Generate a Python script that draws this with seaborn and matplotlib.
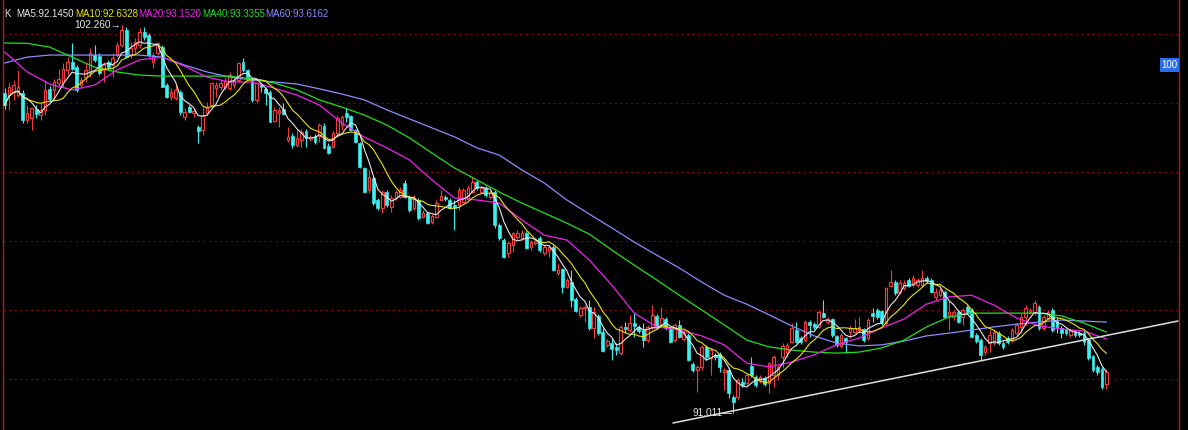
import numpy as np
import pandas as pd
import matplotlib
matplotlib.use("Agg")
import matplotlib.pyplot as plt
import seaborn as sns

# ---------------- data ----------------
opens = [100.29, 100.23, 100.32, 100.23, 100.29, 99.51, 99.57, 99.83, 99.65, 99.80,
         100.41, 100.38, 100.58, 100.61, 100.96, 101.19, 101.04, 100.52, 100.75, 100.87,
         101.39, 101.36, 100.96, 101.19, 101.10, 101.39, 101.68, 102.12, 101.39, 101.59,
         101.68, 102.06, 101.97, 101.19, 101.45, 101.62, 100.52, 100.17, 100.14, 100.32,
         99.59, 99.88, 99.71, 99.30, 99.22, 99.71, 99.94, 100.43, 100.46, 100.46,
         100.43, 100.52, 100.67, 101.19, 100.96, 100.67, 100.09, 100.52, 100.41, 100.32,
         99.48, 99.71, 99.83, 98.93, 99.04, 98.78, 98.93, 99.19, 98.96, 99.04,
         99.04, 99.33, 98.75, 98.72, 99.13, 99.36, 99.71, 99.62, 99.22, 98.84,
         98.12, 97.48, 97.83, 97.19, 96.96, 97.42, 96.99, 97.25, 97.28, 97.68,
         97.28, 96.96, 97.19, 96.70, 96.81, 96.55, 96.70, 97.19, 97.28, 97.19,
         97.04, 97.04, 97.13, 97.25, 97.42, 97.71, 97.42, 97.54, 97.28, 97.42,
         96.46, 96.03, 95.65, 95.88, 96.12, 96.09, 96.23, 95.83, 95.94, 96.09,
         95.65, 95.74, 95.83, 95.07, 95.19, 94.67, 94.81, 94.32, 93.86, 94.06,
         94.09, 93.48, 93.83, 93.36, 92.99, 93.04, 92.93, 92.75, 93.51, 93.42,
         93.62, 93.51, 93.42, 93.13, 93.51, 93.83, 93.57, 93.74, 93.48, 93.13,
         93.57, 93.16, 93.28, 92.43, 92.26, 92.35, 92.93, 92.61, 92.70, 92.73,
         92.20, 92.26, 91.48, 91.48, 91.91, 91.88, 92.38, 92.06, 91.94, 92.03,
         91.88, 92.12, 92.12, 92.64, 92.75, 93.07, 93.42, 93.19, 93.13, 93.65,
         93.59, 93.51, 93.91, 93.65, 93.74, 93.25, 92.96, 93.19, 93.36, 93.36,
         93.42, 93.45, 93.19, 93.91, 94.00, 93.97, 93.62, 94.70, 94.81, 94.52,
         94.64, 94.87, 94.72, 94.72, 94.72, 94.93, 94.87, 94.38, 94.43, 94.52,
         93.86, 93.80, 93.94, 93.80, 94.09, 94.00, 93.28, 93.13, 92.78, 93.04,
         93.04, 93.33, 93.04, 93.19, 93.13, 93.33, 93.51, 93.80, 93.94, 93.91,
         94.09, 93.48, 93.77, 94.00, 93.71, 93.48, 93.42, 93.28, 93.36, 93.33,
         93.33, 93.13, 92.67, 92.35, 92.29, 91.85]

highs = [100.43, 100.58, 100.67, 100.96, 100.38, 99.94, 99.86, 99.94, 100.00, 100.67,
         100.49, 100.70, 100.99, 101.16, 101.33, 101.74, 101.10, 100.75, 101.19, 101.59,
         101.68, 101.45, 101.19, 101.25, 101.45, 101.77, 102.26, 102.20, 101.77, 101.88,
         102.17, 102.20, 102.03, 101.48, 101.77, 101.68, 100.58, 100.43, 100.52, 100.38,
         99.86, 99.94, 99.86, 99.36, 99.88, 100.03, 100.61, 100.61, 100.67, 100.75,
         100.90, 100.75, 101.19, 101.30, 100.99, 100.72, 100.61, 100.58, 100.46, 100.38,
         99.88, 99.88, 100.00, 99.30, 99.13, 99.22, 99.25, 99.25, 99.07, 99.10,
         99.42, 99.42, 98.84, 99.19, 99.65, 99.65, 99.86, 99.65, 99.25, 98.87,
         98.14, 98.06, 97.86, 97.25, 97.48, 97.48, 97.33, 97.48, 97.57, 97.77,
         97.33, 97.33, 97.25, 96.90, 96.84, 96.78, 97.19, 97.48, 97.33, 97.25,
         97.19, 97.57, 97.54, 97.62, 97.86, 97.77, 97.59, 97.59, 97.48, 97.48,
         96.52, 96.09, 96.00, 96.26, 96.32, 96.32, 96.29, 96.03, 96.09, 96.14,
         95.88, 95.88, 95.88, 95.36, 95.22, 94.93, 95.16, 94.38, 94.12, 94.14,
         94.29, 94.09, 93.89, 93.48, 93.16, 93.19, 93.04, 93.57, 93.65, 93.86,
         93.91, 93.57, 93.62, 93.57, 94.14, 93.89, 94.09, 93.80, 93.51, 93.62,
         93.71, 93.42, 93.33, 92.49, 92.41, 92.99, 92.99, 92.90, 92.75, 92.78,
         92.32, 92.32, 91.53, 92.03, 92.03, 92.17, 92.64, 92.12, 92.12, 92.09,
         92.49, 92.70, 92.41, 93.04, 93.04, 93.62, 93.65, 93.25, 93.71, 93.71,
         93.65, 94.00, 94.29, 93.80, 93.77, 93.28, 93.33, 93.22, 93.57, 93.74,
         93.80, 93.48, 93.77, 94.06, 94.06, 94.00, 94.67, 95.16, 94.87, 94.87,
         94.87, 94.93, 95.01, 94.93, 95.16, 94.99, 94.93, 94.64, 94.64, 94.58,
         94.29, 94.00, 94.00, 94.06, 94.14, 94.06, 93.33, 93.19, 92.99, 93.42,
         93.42, 93.39, 93.10, 93.25, 93.48, 93.62, 93.91, 94.14, 94.06, 94.29,
         94.14, 93.86, 94.00, 94.06, 93.77, 93.54, 93.48, 93.48, 93.42, 93.39,
         93.39, 93.19, 92.70, 92.41, 92.35, 92.29]

lows = [99.83, 99.80, 100.09, 100.17, 99.42, 99.42, 99.22, 99.57, 99.51, 99.65,
        100.03, 100.09, 100.46, 100.46, 100.81, 100.96, 100.32, 100.43, 100.61, 100.75,
        101.19, 100.81, 100.61, 100.96, 100.75, 101.33, 101.62, 101.30, 101.30, 101.45,
        101.59, 101.83, 101.33, 101.01, 101.39, 100.46, 100.14, 100.09, 100.09, 99.65,
        99.51, 99.71, 99.59, 98.84, 99.07, 99.65, 99.88, 100.17, 100.38, 100.38,
        100.38, 100.43, 100.61, 100.90, 100.72, 100.03, 100.00, 100.32, 99.94, 99.45,
        99.45, 99.30, 99.65, 98.87, 98.70, 98.72, 98.72, 98.72, 98.90, 98.81,
        98.87, 98.70, 98.52, 98.70, 99.07, 99.22, 99.45, 99.19, 98.84, 98.12,
        97.39, 97.39, 97.04, 96.90, 96.81, 96.99, 96.84, 97.19, 97.25, 97.25,
        96.84, 96.90, 96.61, 96.67, 96.49, 96.49, 96.67, 97.19, 97.16, 96.93,
        96.32, 96.90, 97.10, 97.19, 97.39, 97.48, 97.39, 97.28, 97.22, 96.38,
        96.03, 95.51, 95.54, 95.68, 96.03, 96.03, 95.77, 95.74, 95.88, 95.68,
        95.59, 95.54, 95.13, 95.01, 94.49, 94.64, 94.09, 93.94, 93.80, 93.65,
        93.42, 93.19, 93.28, 92.78, 92.93, 92.55, 92.70, 92.70, 93.33, 93.36,
        93.22, 93.33, 92.93, 93.07, 93.42, 93.45, 93.51, 93.42, 93.04, 93.07,
        93.19, 93.10, 92.52, 92.20, 91.62, 92.26, 92.55, 92.12, 92.55, 92.20,
        91.68, 91.45, 91.011, 91.39, 91.77, 91.83, 92.06, 91.77, 91.88, 91.80,
        91.59, 91.77, 91.97, 92.32, 92.64, 93.04, 93.04, 93.01, 93.07, 93.22,
        93.45, 93.48, 93.77, 93.59, 93.22, 92.93, 92.90, 92.75, 93.19, 93.33,
        93.33, 93.07, 93.13, 93.65, 93.74, 93.57, 93.57, 94.67, 94.43, 94.46,
        94.58, 94.67, 94.67, 94.67, 94.67, 94.78, 94.49, 94.29, 94.38, 93.77,
        93.42, 93.71, 93.62, 93.57, 93.89, 93.22, 93.04, 92.55, 92.70, 92.78,
        92.99, 92.99, 92.87, 93.01, 93.07, 93.28, 93.33, 93.57, 93.89, 93.86,
        93.42, 93.42, 93.71, 93.36, 93.33, 93.19, 93.28, 93.22, 93.22, 93.22,
        92.99, 92.55, 92.20, 92.12, 91.71, 91.71]

closes = [99.94, 100.46, 100.52, 100.46, 99.51, 99.71, 99.86, 99.68, 99.80, 100.38,
          100.12, 100.61, 100.70, 100.99, 101.19, 100.99, 100.38, 100.67, 100.96, 101.45,
          101.25, 100.87, 101.10, 101.04, 101.30, 101.68, 102.12, 101.33, 101.59, 101.77,
          102.06, 101.91, 101.39, 101.39, 101.74, 100.46, 100.17, 100.32, 100.38, 99.74,
          99.74, 99.74, 99.77, 99.19, 99.65, 99.88, 100.58, 100.52, 100.58, 100.64,
          100.81, 100.67, 101.16, 100.96, 100.75, 100.09, 100.58, 100.46, 100.29, 99.45,
          99.80, 99.80, 99.68, 99.01, 98.78, 98.99, 99.16, 98.99, 99.01, 98.87,
          99.36, 98.70, 98.55, 99.13, 99.57, 99.59, 99.59, 99.22, 98.87, 98.14,
          97.42, 97.86, 97.10, 96.96, 97.42, 97.04, 97.25, 97.42, 97.48, 97.28,
          96.90, 97.25, 96.67, 96.81, 96.52, 96.72, 97.10, 97.30, 97.22, 96.96,
          96.96, 97.48, 97.48, 97.54, 97.71, 97.54, 97.54, 97.33, 97.39, 96.46,
          96.09, 95.54, 95.94, 96.23, 96.23, 96.23, 95.80, 95.97, 96.00, 95.74,
          95.83, 95.83, 95.16, 95.16, 94.67, 94.87, 94.29, 93.97, 94.06, 94.09,
          93.48, 93.94, 93.33, 92.81, 93.10, 92.87, 92.84, 93.51, 93.45, 93.62,
          93.54, 93.39, 93.13, 93.51, 93.86, 93.51, 93.77, 93.48, 93.07, 93.57,
          93.22, 93.33, 92.55, 92.26, 92.35, 92.93, 92.64, 92.84, 92.64, 92.35,
          92.26, 91.59, 91.33, 91.97, 91.83, 92.12, 92.12, 91.83, 92.06, 91.85,
          92.46, 92.64, 92.35, 92.96, 92.99, 93.48, 93.07, 93.07, 93.65, 93.57,
          93.51, 93.94, 93.80, 93.74, 93.28, 92.99, 93.28, 93.07, 93.48, 93.48,
          93.51, 93.13, 93.71, 93.83, 93.80, 93.62, 94.64, 94.81, 94.49, 94.78,
          94.78, 94.70, 94.93, 94.87, 94.93, 94.84, 94.52, 94.52, 94.58, 93.80,
          93.94, 93.94, 93.65, 94.00, 93.94, 93.22, 93.10, 92.70, 92.93, 93.28,
          93.36, 93.04, 92.93, 93.07, 93.42, 93.57, 93.80, 94.06, 94.00, 94.20,
          93.48, 93.80, 93.94, 93.42, 93.48, 93.33, 93.33, 93.42, 93.28, 93.28,
          93.07, 92.61, 92.26, 92.20, 91.77, 92.20]

# long moving averages, every 5 candles
ma_pos = [0, 5, 10, 15, 20, 25, 30, 35, 40, 45, 50, 55, 60, 65, 70, 75, 80, 85, 90, 95,
          100, 105, 110, 115, 120, 125, 130, 135, 140, 145, 150, 155, 160, 165, 170,
          175, 180, 185, 190, 195, 200, 205, 210, 215, 220, 225, 230, 235, 240, 245]
ma20 = [101.48, 100.90, 100.55, 100.38, 100.52, 100.96, 101.25, 101.33, 101.07, 100.75,
        100.61, 100.61, 100.43, 100.23, 99.94, 99.42, 99.01, 98.70, 98.35, 97.77,
        97.25, 97.19, 97.10, 96.61, 96.17, 96.03, 95.45, 94.72, 93.91, 93.51,
        93.42, 93.25, 92.99, 92.46, 92.35, 92.49, 92.70, 92.99, 93.19, 93.48,
        93.74, 94.17, 94.38, 94.43, 94.14, 93.77, 93.54, 93.45, 93.39, 93.16]
ma40 = [101.74, 101.73, 101.62, 101.33, 101.04, 100.90, 100.81, 100.78, 100.78, 100.78,
        100.78, 100.70, 100.58, 100.38, 100.09, 99.88, 99.65, 99.36, 98.99, 98.55,
        98.12, 97.77, 97.42, 97.10, 96.81, 96.52, 96.20, 95.74, 95.30, 94.87,
        94.43, 94.00, 93.57, 93.13, 92.93, 92.84, 92.78, 92.75, 92.78, 92.90,
        93.13, 93.51, 93.80, 93.91, 93.91, 93.91, 93.91, 93.83, 93.62, 93.36]
ma60 = [101.16, 101.33, 101.39, 101.39, 101.39, 101.39, 101.39, 101.33, 101.10, 100.90,
        100.75, 100.67, 100.61, 100.55, 100.41, 100.26, 100.09, 99.80, 99.54, 99.28,
        99.02, 98.70, 98.49, 98.06, 97.68, 97.19, 96.78, 96.38, 95.97, 95.59,
        95.22, 94.81, 94.43, 94.17, 93.86, 93.54, 93.25, 93.04, 92.96, 92.99,
        93.10, 93.25, 93.33, 93.42, 93.51, 93.59, 93.65, 93.71, 93.68, 93.65]

legend_labels = ["K", "MA5:92.1450", "MA10:92.6328", "MA20:93.1520",
                 "MA40:93.3355", "MA60:93.6162"]
grid_levels = [92, 94, 96, 98, 100, 102]
axis_tag = "100"
trend_x = [148.6, 260.9]
trend_y = [90.725, 93.681]

# ---------------- style ----------------
sns.set_style("dark", {"axes.facecolor": "black", "figure.facecolor": "black"})
plt.rcParams['font.family'] = ['Liberation Sans', 'DejaVu Sans']

C_UP = '#f03c3c'
C_DN = '#3cf0f0'
C_MA5 = '#e8e8e8'
C_MA10 = '#e8e800'
C_MA20 = '#f020f0'
C_MA40 = '#20e020'
C_MA60 = '#8c8cff'
C_TXT = '#e6e6e6'

W, H = 1188, 430
fig = plt.figure(figsize=(W / 100, H / 100), dpi=100, facecolor='black')
ax = fig.add_axes([2.5 / W, 0, (1179 - 2.5) / W, 1])
ax.set_facecolor('black')

df = pd.DataFrame({"open": opens, "high": highs, "low": lows, "close": closes})
df["x"] = np.arange(len(df))
df["ma5"] = df["close"].rolling(5, min_periods=1).mean()
df["ma10"] = df["close"].rolling(10, min_periods=1).mean()
up = (df["close"] >= df["open"]).to_numpy()
bhi = np.maximum(df["open"], df["close"]).to_numpy()
blo = np.minimum(df["open"], df["close"]).to_numpy()
x = df["x"].to_numpy()
hgt = np.maximum(bhi - blo, 0.012)

# grid
for g in grid_levels:
    ax.axhline(g, color='#8a0000', lw=0.8, ls=(0, (2, 3)), zorder=1)

# wicks
wick_col = np.where(up, C_UP, C_DN)
ax.vlines(x, bhi, df["high"], colors=wick_col, lw=0.8, zorder=2)
ax.vlines(x, df["low"], blo, colors=wick_col, lw=0.8, zorder=2)
# bodies
ax.bar(x[up], hgt[up], bottom=blo[up], width=0.58, facecolor='black',
       edgecolor=C_UP, linewidth=0.85, zorder=3)
ax.bar(x[~up], hgt[~up], bottom=blo[~up], width=0.65, color=C_DN,
       edgecolor=C_DN, linewidth=0.5, zorder=3)

# moving averages
ma_df = pd.DataFrame({"x": ma_pos, "ma20": ma20, "ma40": ma40, "ma60": ma60})
sns.lineplot(data=ma_df, x="x", y="ma60", ax=ax, color=C_MA60, lw=0.9, zorder=4)
sns.lineplot(data=ma_df, x="x", y="ma40", ax=ax, color=C_MA40, lw=0.9, zorder=4)
sns.lineplot(data=ma_df, x="x", y="ma20", ax=ax, color=C_MA20, lw=0.9, zorder=4)
sns.lineplot(data=df, x="x", y="ma10", ax=ax, color=C_MA10, lw=0.8, zorder=5)
sns.lineplot(data=df, x="x", y="ma5", ax=ax, color=C_MA5, lw=0.8, zorder=5)

# trend line
ax.plot(trend_x, trend_y, color='#e0e0e0', lw=1.1, zorder=6)

# extreme labels
ih = int(np.argmax(highs))
il = int(np.argmin(lows))
ax.text(ih - 0.2, highs[ih], f"{highs[ih]:.3f}\u2192", ha='right', va='center',
        color=C_TXT, fontsize=7.3, zorder=7)
ax.text(il - 0.2, lows[il], f"{lows[il]:.3f}\u2014", ha='right', va='center',
        color=C_TXT, fontsize=7.3, zorder=7)

# right tag
ax.text(0.999, 1 - 65 / H, axis_tag, transform=ax.transAxes, ha='right', va='center',
        color='white', fontsize=7, zorder=8,
        bbox=dict(facecolor='#2a6ef0', edgecolor='none', pad=1.2))

# header legend
leg_x = [4, 16, 75, 138, 202, 265]
leg_c = [C_TXT, C_MA5, C_MA10, C_MA20, C_MA40, C_MA60]
for lx, lab, col in zip(leg_x, legend_labels, leg_c):
    fig.text(lx / W, 1 - 14 / H, lab, color=col, fontsize=7, ha='left', va='center')

# axes extents (pixel calibrated)
ax.set_xlim(-0.483, 261.13)
ax.set_ylim(90.522, 102.986)
ax.set_xticks([])
ax.set_yticks([])
ax.set_xlabel("")
ax.set_ylabel("")
ax.grid(False)
for s in ['top', 'bottom']:
    ax.spines[s].set_visible(False)
for s in ['left', 'right']:
    ax.spines[s].set_visible(True)
    ax.spines[s].set_color('#b02020')
    ax.spines[s].set_linewidth(1.0)

fig.savefig("out.png", dpi=100, facecolor='black')
